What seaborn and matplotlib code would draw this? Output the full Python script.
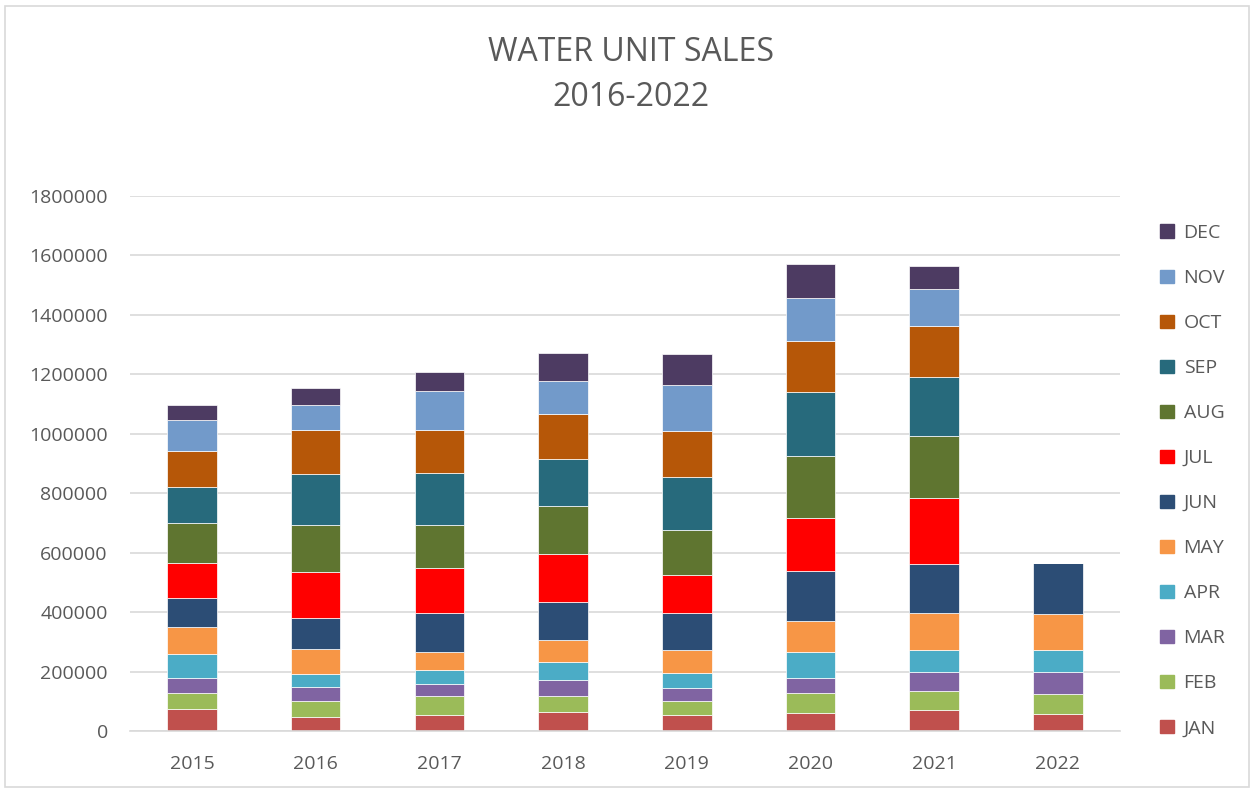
import matplotlib.pyplot as plt
import matplotlib.patches as mpatches
import numpy as np
import pandas as pd
import seaborn as sns

# Data
years = ["2015", "2016", "2017", "2018", "2019", "2020", "2021", "2022"]
months = ["JAN", "FEB", "MAR", "APR", "MAY", "JUN", "JUL", "AUG", "SEP", "OCT", "NOV", "DEC"]

jan = [73000, 48400, 52900, 63000, 53900, 59600, 70700, 58600]
feb = [56000, 53900, 63900, 53800, 46100, 67300, 63000, 66000]
mar = [50500, 45800, 40400, 54900, 44800, 52900, 65000, 73000]
apr = [79600, 45100, 48200, 60600, 49500, 87500, 75400, 76500]
may = [90900, 82900, 59600, 74100, 77600, 104400, 123200, 121200]
jun = [99100, 104400, 133600, 127900, 124600, 165000, 164000, 168300]
jul = [116600, 154900, 148200, 162300, 126900, 179500, 223200, 0]
aug = [132600, 156100, 146800, 159500, 151500, 208900, 206700, 0]
sep = [123200, 172800, 175100, 160300, 178500, 214100, 198700, 0]
oct_ = [121300, 149200, 144800, 151500, 155100, 171700, 173700, 0]
nov = [103300, 84100, 129200, 110100, 155900, 146200, 123600, 0]
dec = [50500, 56300, 65000, 93300, 103300, 113100, 76400, 0]

colors = ["#C0504D", "#9BBB59", "#8064A2", "#4BACC6", "#F79646", "#2C4D75",
          "#FF0000", "#5F7530", "#276A7C", "#B65708", "#729ACA", "#4D3B62"]

df = pd.DataFrame(
    [jan, feb, mar, apr, may, jun, jul, aug, sep, oct_, nov, dec],
    index=months, columns=years,
)

sns.set_style("white")
plt.rcParams["font.family"] = ["Open Sans", "DejaVu Sans"]
grey = "#595959"

fig = plt.figure(figsize=(12.54, 7.89), dpi=100)
ax = fig.add_axes([0.1037, 0.0735, 0.7893, 0.6781])

bottom = np.zeros(len(years))
for m, c in zip(months, colors):
    vals = df.loc[m].values
    sns.barplot(x=years, y=vals, bottom=bottom, color=c, saturation=1, width=0.4,
                edgecolor="white", linewidth=0.5, ax=ax, label=m)
    bottom += vals

ax.set_ylim(0, 1800000)
ax.set_yticks(range(0, 1800001, 200000))
ax.set_yticklabels([str(v) for v in range(0, 1800001, 200000)])
ax.yaxis.grid(True, color="#d9d9d9", linewidth=1.2)
ax.set_axisbelow(True)
for s in ["left", "right", "top"]:
    ax.spines[s].set_visible(False)
ax.spines["bottom"].set_color("#d9d9d9")
ax.spines["bottom"].set_linewidth(1.2)
ax.tick_params(axis="both", length=0, labelsize=14, colors=grey)
ax.tick_params(axis="y", pad=16)
ax.tick_params(axis="x", pad=17)
ax.set_xlim(-0.5, len(years) - 0.5)
ax.set_xlabel("")
ax.set_ylabel("")

fig.text(0.503, 0.933, "WATER UNIT SALES", ha="center", va="center", fontsize=23, color=grey)
fig.text(0.503, 0.876, "2016-2022", ha="center", va="center", fontsize=23, color=grey)

handles = [mpatches.Patch(color=c, label=m) for m, c in zip(months, colors)][::-1]
leg = ax.legend(handles=handles, loc="upper left", bbox_to_anchor=(1.033, 0.962),
                frameon=False, fontsize=14, handlelength=0.7, handleheight=0.7,
                labelspacing=1.39, handletextpad=0.5, borderaxespad=0)
for t in leg.get_texts():
    t.set_color(grey)

fig.patches.append(mpatches.Rectangle((0.004, 0.003), 0.992, 0.99, transform=fig.transFigure,
                                      fill=False, edgecolor="#d9d9d9", linewidth=1.2))

fig.savefig("out.png", dpi=100)
